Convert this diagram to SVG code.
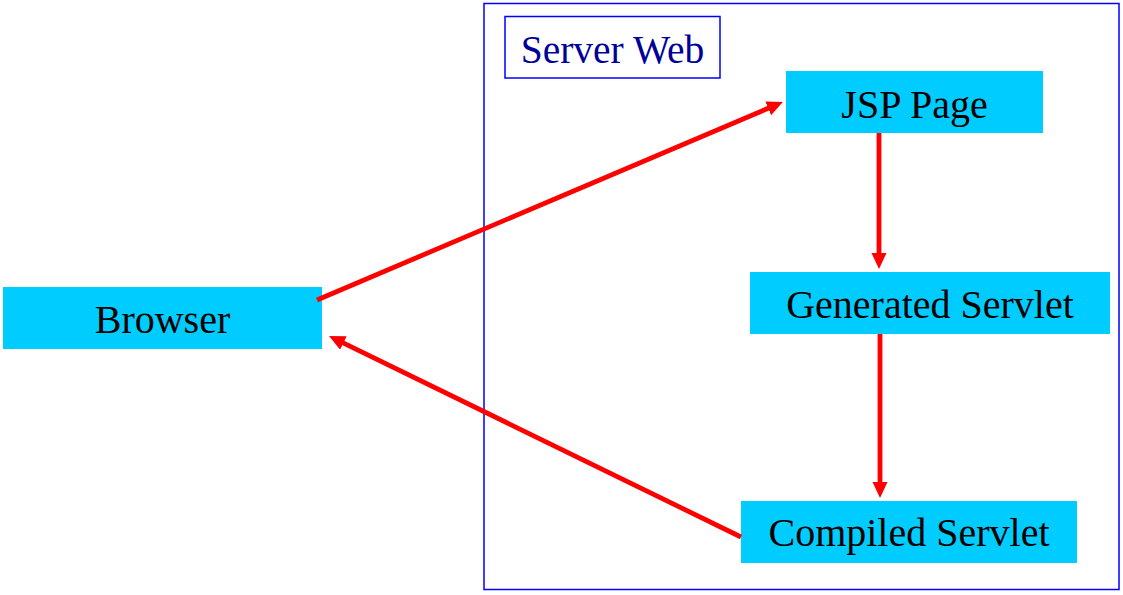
<svg xmlns="http://www.w3.org/2000/svg" width="1123" height="595" viewBox="0 0 1123 595">
<defs>
<style>
.node{fill:#00CCFF;}
.lbl{font-family:"Liberation Serif","Times New Roman",serif;font-size:40px;fill:#000;text-anchor:middle;}
.conn{stroke:#FF0000;stroke-width:4.8;fill:none;marker-end:url(#ah);}
</style>
<marker id="ah" markerUnits="userSpaceOnUse" markerWidth="18" markerHeight="16" refX="2" refY="7.5" orient="auto">
<path d="M0,0 L16,7.5 L0,15 z" fill="#FF0000"/>
</marker>
</defs>
<rect width="1123" height="595" fill="#fff"/>
<g id="server">
<rect x="484" y="3.5" width="635" height="586" fill="none" stroke="#0000FF" stroke-width="1.5"/>
<rect x="505" y="16.5" width="215" height="61.5" fill="none" stroke="#0000FF" stroke-width="1.5"/>
<text x="612.5" y="63" style="font-family:'Liberation Serif','Times New Roman',serif;font-size:39.5px;fill:#000099;text-anchor:middle">Server Web</text>
</g>
<g id="browser">
<rect class="node" x="3" y="287" width="319" height="62"/>
<text class="lbl" x="162.5" y="333">Browser</text>
</g>
<g id="jsp">
<rect class="node" x="786" y="71" width="257" height="62"/>
<text class="lbl" x="914.5" y="118">JSP Page</text>
</g>
<g id="generated">
<rect class="node" x="750" y="272" width="360" height="62"/>
<text class="lbl" x="930" y="318">Generated Servlet</text>
</g>
<g id="compiled">
<rect class="node" x="741" y="501" width="336" height="62"/>
<text class="lbl" x="909" y="546">Compiled Servlet</text>
</g>
<g id="connectors">
<line class="conn" x1="317" y1="300" x2="770" y2="107.5"/>
<line class="conn" x1="879" y1="133" x2="879" y2="255"/>
<line class="conn" x1="880" y1="334" x2="880" y2="484"/>
<line class="conn" x1="741" y1="537" x2="341.6" y2="342.1"/>
</g>
</svg>
